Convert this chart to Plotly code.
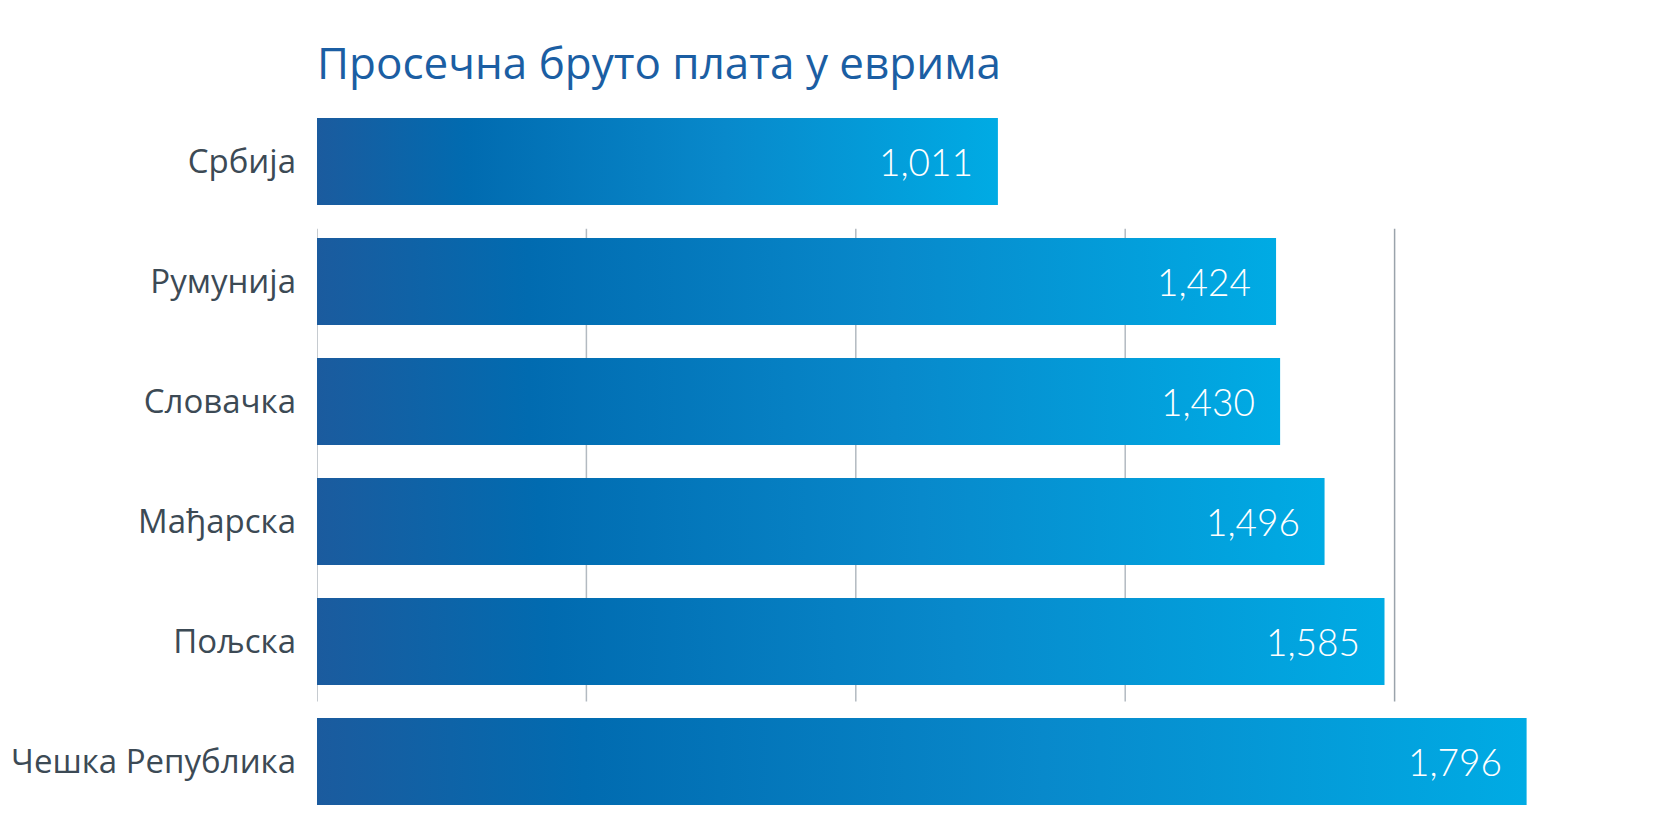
import plotly.graph_objects as go

categories = ["Србија", "Румунија", "Словачка", "Мађарска", "Пољска", "Чешка Република"]
values = [1011, 1424, 1430, 1496, 1585, 1796]
value_labels = ["1,011", "1,424", "1,430", "1,496", "1,585", "1,796"]
grid_ticks = [0, 400, 800, 1200, 1600]
title_text = "Просечна бруто плата у еврима"

BAR_H = 0.725
gradient = [[0.0, "#1b5b9e"], [0.22, "#016bb0"], [0.6, "#0889cb"], [1.0, "#00abe4"]]

fig = go.Figure()

for i, (cat, v) in enumerate(zip(categories, values)):
    y0, y1 = i - BAR_H / 2, i + BAR_H / 2
    fig.add_trace(go.Scatter(
        x=[0, v, v, 0, 0], y=[y0, y0, y1, y1, y0],
        mode="lines", line=dict(width=0), fill="toself",
        fillgradient=dict(type="horizontal", colorscale=gradient),
        hoverinfo="skip", showlegend=False, name=cat))

for i, (v, lab) in enumerate(zip(values, value_labels)):
    fig.add_annotation(x=v, y=i, text=lab, showarrow=False, xanchor="right",
                       yanchor="middle", xshift=-23,
                       font=dict(family="Lato", size=37, color="white", weight=300))

# gridlines between the first and last bar
for g in grid_ticks:
    fig.add_shape(type="line", xref="x", yref="y", x0=g, x1=g, y0=0.56, y1=4.5,
                  layer="below",
                  line=dict(color="#9aa3ab" if g == grid_ticks[-1] else "#b3bac1", width=1.5))

t, b = 66, 8
plot_h = 836 - t - b
span = plot_h / 120.0
top_val = -(161.5 - t) / 120.0
bot_val = top_val + span

fig.update_layout(
    width=1667, height=836,
    margin=dict(l=317, r=3, t=t, b=b),
    paper_bgcolor="white", plot_bgcolor="white",
    showlegend=False,
    title=dict(text=title_text, x=317 / 1667, xanchor="left", xref="container",
               yref="container", y=1 - 64 / 836, yanchor="middle",
               font=dict(family="Open Sans", size=44, color="#1b5ea3")),
    xaxis=dict(range=[0, 2000], showgrid=False, zeroline=False, showticklabels=False,
               showline=False, fixedrange=True),
    yaxis=dict(range=[bot_val, top_val], tickvals=list(range(len(categories))),
               ticktext=categories, showgrid=False, zeroline=False, showline=False,
               ticks="", ticklabelstandoff=20,
               tickfont=dict(family="Open Sans", size=33, color="#3c4a55")),
)

fig.write_html("out.html")
